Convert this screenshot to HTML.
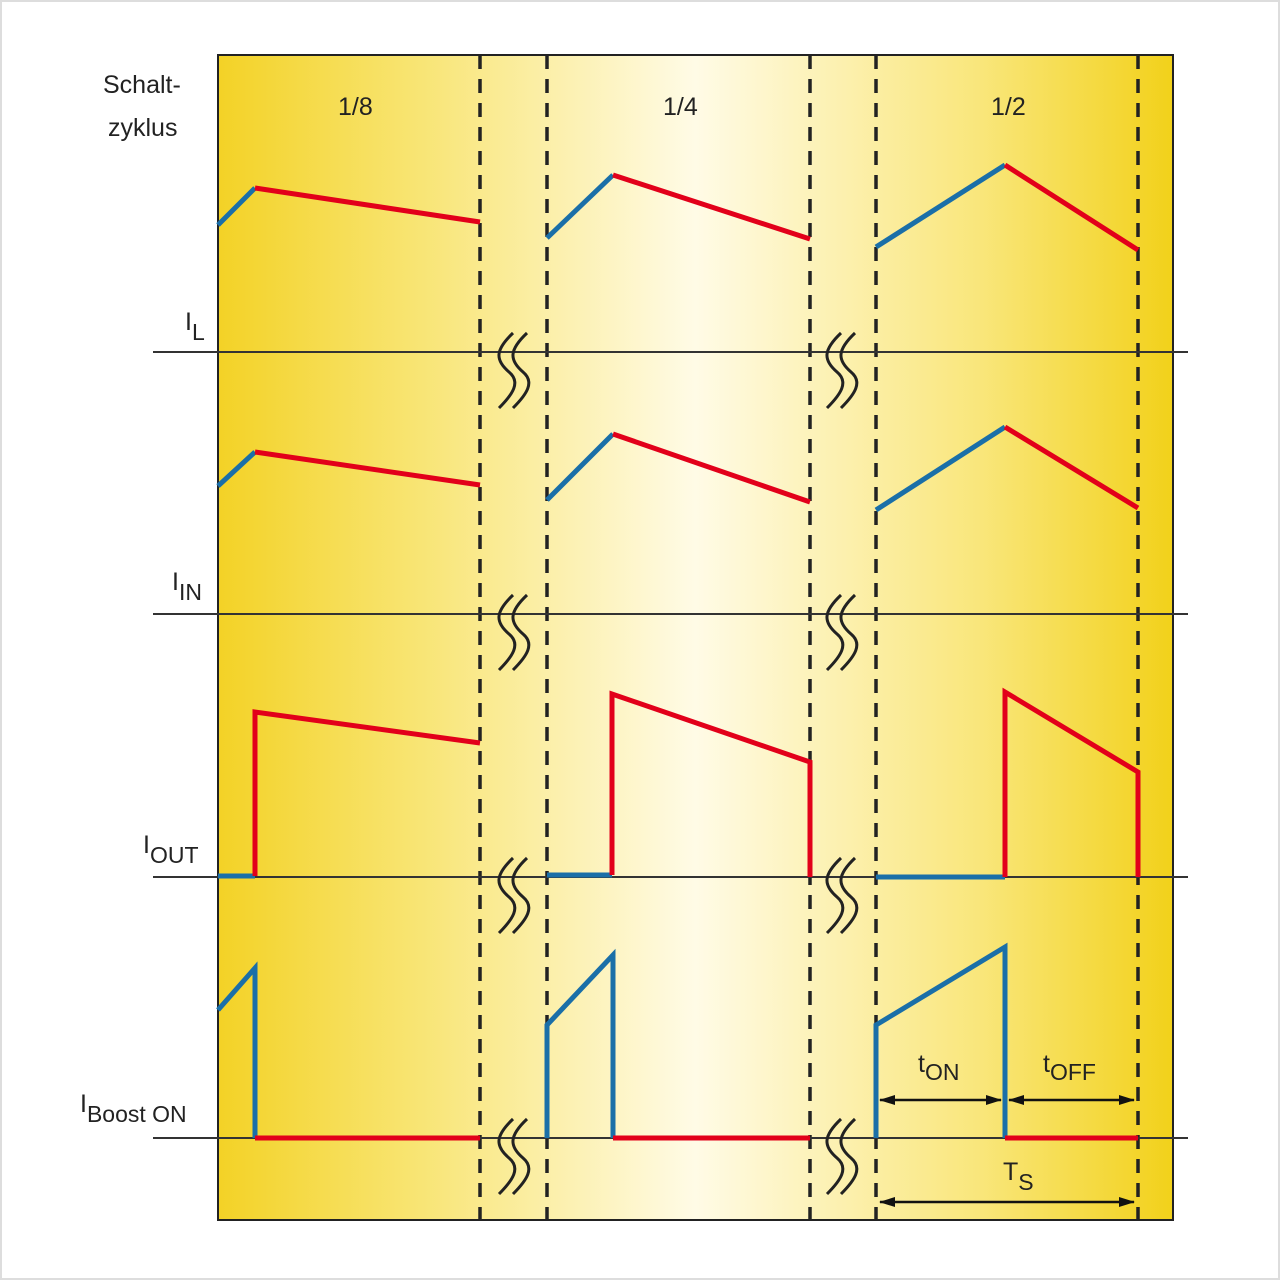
<!DOCTYPE html>
<html><head><meta charset="utf-8"><style>body{margin:0;background:#fff}</style></head><body>
<svg width="1280" height="1280" viewBox="0 0 1280 1280" xmlns="http://www.w3.org/2000/svg" font-family="Liberation Sans, sans-serif">
<defs>
<linearGradient id="g" x1="218" x2="1173" y1="0" y2="0" gradientUnits="userSpaceOnUse">
<stop offset="0" stop-color="#f3d226"/>
<stop offset="0.2" stop-color="#f8e470"/>
<stop offset="0.5" stop-color="#fffbe6"/>
<stop offset="0.8" stop-color="#f9e67a"/>
<stop offset="1" stop-color="#f2d11a"/>
</linearGradient>
<marker id="a" markerWidth="16" markerHeight="10" refX="15" refY="5" orient="auto-start-reverse" markerUnits="userSpaceOnUse"><path d="M0,0 L16,5 L0,10z" fill="#111"/></marker>
<g id="b"><path d="M-4,-27 C-22,-10 -22,0 -8,12 C4,22 -4,34 -18,48"/><path d="M10,-27 C-8,-10 -8,0 6,12 C18,22 10,34 -4,48"/></g>
</defs>
<rect x="0" y="0" width="1280" height="1280" fill="#fff"/>
<rect x="1" y="1" width="1278" height="1278" fill="none" stroke="#ddd" stroke-width="2"/>
<rect x="218" y="55" width="955" height="1165" fill="url(#g)" stroke="#222" stroke-width="2"/>
<g stroke="#222" stroke-width="3.5" stroke-dasharray="14,10">
<line x1="480" y1="55" x2="480" y2="1220"/><line x1="547" y1="55" x2="547" y2="1220"/>
<line x1="810" y1="55" x2="810" y2="1220"/><line x1="876" y1="55" x2="876" y2="1220"/>
<line x1="1138" y1="55" x2="1138" y2="1220"/>
</g>
<g stroke="#333" stroke-width="2">
<line x1="153" y1="352" x2="1188" y2="352"/><line x1="153" y1="614" x2="1188" y2="614"/>
<line x1="153" y1="877" x2="1188" y2="877"/><line x1="153" y1="1138" x2="1188" y2="1138"/>
</g>
<g fill="none" stroke="#222" stroke-width="3">
<use href="#b" transform="translate(517,360)"/><use href="#b" transform="translate(845,360)"/>
<use href="#b" transform="translate(517,622)"/><use href="#b" transform="translate(845,622)"/>
<use href="#b" transform="translate(517,885)"/><use href="#b" transform="translate(845,885)"/>
<use href="#b" transform="translate(517,1146)"/><use href="#b" transform="translate(845,1146)"/>
</g>
<g fill="none" stroke-width="5" stroke-linejoin="miter">
<g stroke="#1a6fa8">
<path d="M218,225 L255,188"/><path d="M547,238 L613,175"/><path d="M876,247 L1005,165"/>
<path d="M218,486 L255,452"/><path d="M547,500 L613,434"/><path d="M876,510 L1005,427"/>
<path d="M218,876 L255,876"/><path d="M547,875 L612,875"/><path d="M876,877 L1005,877"/>
<path d="M218,1010 L255,968 L255,1138"/><path d="M547,1138 L547,1025 L613,955 L613,1138"/><path d="M876,1138 L876,1025 L1005,947 L1005,1138"/>
</g>
<g stroke="#e2001a">
<path d="M255,188 L480,222"/><path d="M613,175 L810,239"/><path d="M1005,165 L1138,250"/>
<path d="M255,452 L480,485"/><path d="M613,434 L810,502"/><path d="M1005,427 L1138,508"/>
<path d="M255,876 L255,712 L480,743"/><path d="M612,875 L612,694 L810,762 L810,877"/><path d="M1005,877 L1005,692 L1138,772 L1138,877"/>
<path d="M255,1138 L480,1138"/><path d="M613,1138 L810,1138"/><path d="M1005,1138 L1138,1138"/>
</g>
</g>
<g stroke="#111" stroke-width="2.5">
<line x1="880" y1="1100" x2="1001" y2="1100" marker-start="url(#a)" marker-end="url(#a)"/>
<line x1="1009" y1="1100" x2="1134" y2="1100" marker-start="url(#a)" marker-end="url(#a)"/>
<line x1="880" y1="1202" x2="1134" y2="1202" marker-start="url(#a)" marker-end="url(#a)"/>
</g>
<g fill="#222" font-size="25">
<text x="103" y="93">Schalt-</text><text x="108" y="136">zyklus</text>
<text x="338" y="115">1/8</text><text x="663" y="115">1/4</text><text x="991" y="115">1/2</text>
<text x="185" y="330">I<tspan font-size="23" dy="10">L</tspan></text>
<text x="172" y="590">I<tspan font-size="23" dy="10">IN</tspan></text>
<text x="143" y="853">I<tspan font-size="23" dy="10">OUT</tspan></text>
<text x="80" y="1112">I<tspan font-size="23" dy="10">Boost ON</tspan></text>
<text x="918" y="1072">t<tspan font-size="23" dy="8">ON</tspan></text>
<text x="1043" y="1072">t<tspan font-size="23" dy="8">OFF</tspan></text>
<text x="1003" y="1180">T<tspan font-size="23" dy="10">S</tspan></text>
</g>
</svg>
</body></html>
